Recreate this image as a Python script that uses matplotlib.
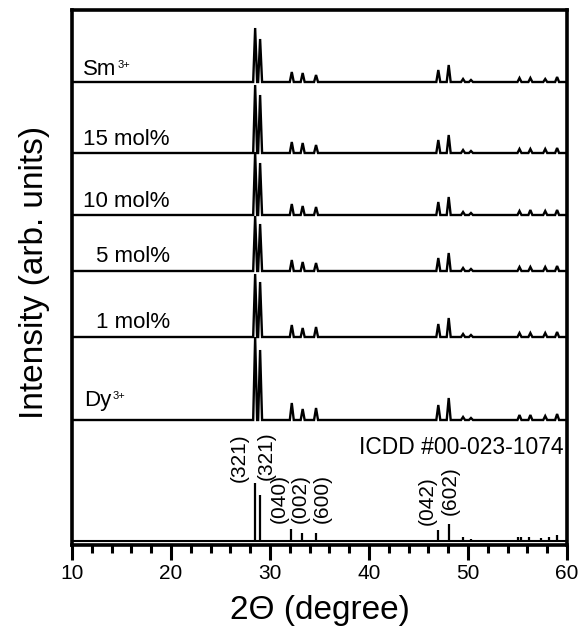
import numpy as np
import matplotlib
matplotlib.use("Agg")
import matplotlib.pyplot as plt

plt.rcParams['font.family'] = ['Liberation Sans', 'DejaVu Sans']

# ---- data ----
sample_labels = ["Sm", "15 mol%", "10 mol%", "5 mol%", "1 mol%", "Dy"]
sample_sups = ["3+", "", "", "", "", "3+"]
offsets = [463, 392, 330, 274, 208, 125]          # stacking offsets (arb. units)
peak_pos = [28.5, 29.0, 32.2, 33.3, 34.65, 47.0, 48.05, 49.5, 50.3, 55.2, 56.3, 57.8, 59.0]
peak_sm = [54, 43, 10, 9, 7, 12, 17, 3, 2, 4, 4, 3, 5]
peak_15 = [68, 58, 11, 10, 8, 13, 18, 3, 2, 4, 4, 4, 5]
peak_10 = [63, 52, 11, 9, 8, 13, 18, 3, 2, 4, 5, 4, 5]
peak_5 = [55, 47, 11, 9, 8, 13, 18, 3, 2, 4, 4, 4, 5]
peak_1 = [63, 55, 12, 9, 10, 13, 19, 3, 2, 4, 4, 4, 5]
peak_dy = [83, 70, 17, 11, 12, 15, 22, 3, 2, 5, 5, 4, 6]
traces = [peak_sm, peak_15, peak_10, peak_5, peak_1, peak_dy]

icdd_pos = [28.5, 29.0, 32.15, 33.25, 34.65, 47.0, 48.05, 49.45, 50.35, 55.1, 55.4, 56.2, 57.4, 58.2, 59.0]
icdd_int = [58, 46, 12, 8, 8, 11, 17, 4, 2, 4, 4, 4, 3, 4, 6]
hkl_labels = ["(321)", "(321)", "(040)", "(002)", "(600)", "(042)", "(602)"]
hkl_peak_index = [0, 1, 2, 3, 4, 5, 6]
icdd_label = "ICDD #00-023-1074"

# ---- layout ----
W, H = 586, 631
fig = plt.figure(figsize=(W / 100, H / 100), dpi=100)
L, R, T, B = 72, 567, 10, 545
ax = fig.add_axes([L / W, (H - B) / H, (R - L) / W, (B - T) / H])
ax.set_xlim(10, 60)
ax.set_ylim(0, B - T)

hw = 0.2
for lab, off, hts in zip(sample_labels, offsets, traces):
    xs = [10.0]
    ys = [0.0]
    for p, h in zip(peak_pos, hts):
        xs += [p - hw, p, p + hw]
        ys += [0.0, h, 0.0]
    xs.append(60.0)
    ys.append(0.0)
    ax.plot(xs, np.array(ys) + off, color='black', lw=1.7, solid_joinstyle='miter')

# sample labels
lab_layout = [(83, 470, 'left'), (170, 400, 'right'), (170, 338, 'right'),
              (170, 283, 'right'), (170, 217, 'right'), (84, 139, 'left')]
for lab, sup, (px, yy, ha) in zip(sample_labels, sample_sups, lab_layout):
    t = ax.text(10 + (px - L) / ((R - L) / 50), yy, lab, ha=ha, va='baseline', fontsize=16)
    if sup:
        ax.annotate(sup, xy=(1.0, 0.95), xycoords=t, xytext=(1, 0), textcoords='offset points',
                    ha='left', va='top', fontsize=8)

# ICDD sticks
stick_base = 4
ax.axhline(stick_base, color='black', lw=1.5)
ax.vlines(icdd_pos, stick_base, stick_base + np.array(icdd_int), color='black', lw=1.6)

hkl_layout = [(-1.62, 63), (0.6, 65), (-1.23, 22), (-0.21, 22), (0.61, 22), (-1.15, 20), (0.12, 30)]
for lab, idx, (dx, yy) in zip(hkl_labels, hkl_peak_index, hkl_layout):
    ax.text(icdd_pos[idx] + dx, yy, lab, rotation=90, ha='center', va='bottom', fontsize=15)

ax.text(59.6, 98, icdd_label, ha='right', va='center', fontsize=16.5)

# axes style
for s in ax.spines.values():
    s.set_linewidth(2.6)
ax.set_xticks(np.arange(10, 61, 10))
ax.set_xticks(np.arange(10, 61, 2), minor=True)
ax.tick_params(axis='x', which='major', direction='out', length=11, width=2.2, labelsize=15, pad=3)
ax.tick_params(axis='x', which='minor', direction='out', length=6, width=2.2)
ax.set_yticks([])
ax.tick_params(axis='x', top=False)

fig.text((L + R) / 2 / W, 1 - 610 / H, "2\u0398 (degree)", ha='center', va='center', fontsize=24)
fig.text(35 / W, 1 - 272 / H, "Intensity (arb. units)", ha='center', va='center', rotation=90, fontsize=24)

fig.savefig("out.png", dpi=100)
